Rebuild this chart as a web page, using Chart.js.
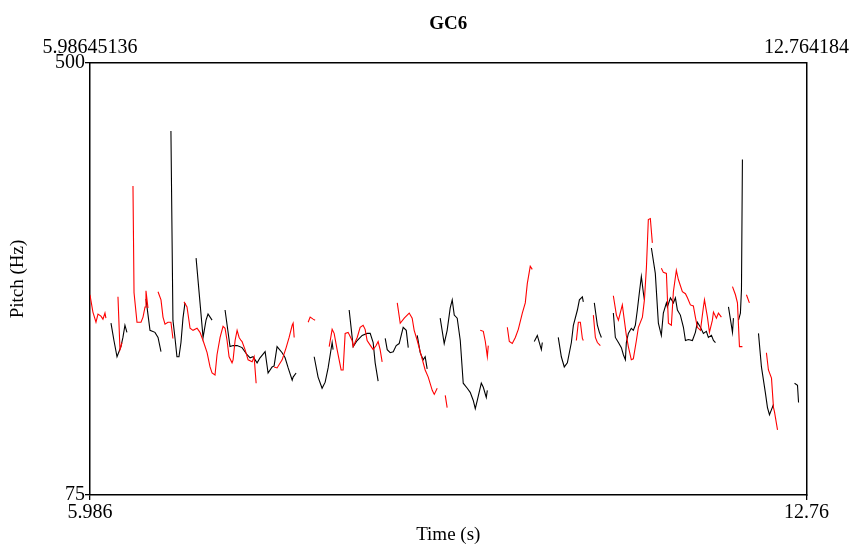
<!DOCTYPE html>
<html>
<head>
<meta charset="utf-8">
<title>GC6</title>
<script src="https://cdn.jsdelivr.net/npm/chart.js@4.4.1/dist/chart.umd.min.js"></script>
<style>
    html, body { margin: 0; padding: 0; background: #fff; }
    #pitchChart { display: block; }
</style>
</head>
<body>
<canvas id="pitchChart" width="852" height="545"></canvas>
<script>
// Pitch track, one inner array per voiced stretch (time in s, pitch in Hz)
const timeMin = 5.98645136;
const timeMax = 12.764184;
const hzMin = 75;
const hzMax = 500;

const blackTimes = [
    [6.185, 6.213, 6.242, 6.279, 6.298, 6.317, 6.336],
    [6.516, 6.554, 6.601, 6.630, 6.658],
    [6.752, 6.771, 6.790, 6.809, 6.828, 6.847, 6.866, 6.885],
    [6.990, 7.056, 7.084, 7.103, 7.141],
    [7.264, 7.311, 7.340, 7.378, 7.425, 7.472, 7.501, 7.529, 7.567, 7.595, 7.643, 7.671, 7.709, 7.728, 7.756, 7.804, 7.832, 7.861, 7.899, 7.908, 7.936],
    [8.107, 8.144, 8.182, 8.211, 8.239, 8.277, 8.286],
    [8.438, 8.476, 8.514, 8.561, 8.608, 8.637, 8.665, 8.684, 8.712],
    [8.779, 8.798, 8.826, 8.855, 8.883, 8.911, 8.949, 8.978, 8.997],
    [9.082, 9.110, 9.138, 9.157, 9.176],
    [9.299, 9.337, 9.365, 9.394, 9.413, 9.432, 9.460, 9.489, 9.517, 9.555, 9.583, 9.612, 9.631, 9.650, 9.688, 9.707, 9.735, 9.745],
    [10.189, 10.218, 10.237, 10.256, 10.265],
    [10.416, 10.445, 10.473, 10.502, 10.540, 10.559, 10.597, 10.616, 10.644, 10.653],
    [10.757, 10.786, 10.805, 10.824],
    [10.937, 10.956, 10.985, 11.013, 11.032, 11.051, 11.060, 11.079, 11.107, 11.126, 11.145, 11.164, 11.183, 11.202, 11.221, 11.231],
    [11.297, 11.334, 11.363, 11.391, 11.410, 11.439, 11.448, 11.477, 11.505, 11.524, 11.543, 11.571, 11.600, 11.619, 11.647, 11.685, 11.713, 11.732, 11.761, 11.789, 11.817, 11.836, 11.865, 11.884, 11.903],
    [12.026, 12.064, 12.073],
    [12.121, 12.139, 12.149, 12.158],
    [12.310, 12.338, 12.376, 12.395, 12.414, 12.433, 12.452],
    [12.651, 12.679, 12.689]
];
const blackHz = [
    [244, 227, 211, 221, 230, 242, 235],
    [268, 237, 235, 230, 216],
    [433, 247, 230, 211, 211, 225, 249, 264],
    [308, 230, 247, 253, 247],
    [257, 221, 222, 222, 220, 213, 210, 211, 205, 210, 216, 195, 201, 202, 221, 215, 210, 200, 188, 191, 195],
    [211, 191, 180, 186, 200, 225, 218],
    [257, 221, 227, 232, 234, 234, 225, 205, 187],
    [229, 218, 215, 216, 222, 224, 240, 237, 220],
    [232, 215, 208, 211, 199],
    [249, 224, 237, 259, 267, 252, 249, 227, 185, 180, 176, 168, 160, 168, 185, 181, 171, 178],
    [226, 232, 225, 218, 225],
    [230, 211, 201, 205, 225, 242, 257, 267, 270, 265],
    [264, 242, 235, 230],
    [254, 230, 225, 220, 213, 208, 225, 234, 239, 237, 242, 257, 274, 290, 274, 267],
    [318, 293, 244, 232, 254, 264, 260, 269, 264, 269, 257, 252, 240, 227, 228, 227, 235, 245, 240, 234, 236, 230, 232, 227, 225],
    [260, 235, 249],
    [247, 254, 277, 405],
    [234, 201, 175, 161, 154, 159, 164],
    [185, 183, 166]
];

const redTimes = [
    [5.986, 6.014, 6.043, 6.062, 6.090, 6.109, 6.128, 6.137],
    [6.251, 6.270, 6.279, 6.289],
    [6.393, 6.403, 6.431, 6.469, 6.488, 6.507, 6.516, 6.535],
    [6.630, 6.658, 6.677, 6.696, 6.724, 6.752, 6.771],
    [6.876, 6.904, 6.933, 6.961, 6.999, 7.027, 7.056, 7.094, 7.122, 7.141, 7.169, 7.188, 7.217, 7.245, 7.264, 7.283, 7.302, 7.330, 7.340, 7.359, 7.378, 7.397, 7.415, 7.425, 7.453, 7.482, 7.520, 7.539, 7.558],
    [7.728, 7.756, 7.804, 7.842, 7.870, 7.899, 7.908, 7.918],
    [8.050, 8.069, 8.097, 8.116],
    [8.249, 8.277, 8.296, 8.324, 8.362, 8.381, 8.400, 8.428, 8.466, 8.476, 8.514, 8.542, 8.570, 8.589, 8.608, 8.646, 8.665, 8.693, 8.712, 8.731, 8.750],
    [8.893, 8.921, 8.959, 9.006, 9.034, 9.053, 9.082, 9.110, 9.157, 9.186, 9.224, 9.243, 9.271],
    [9.347, 9.365],
    [9.678, 9.707, 9.726, 9.745, 9.754],
    [9.934, 9.953, 9.981, 10.010, 10.038, 10.076, 10.104, 10.123, 10.151, 10.170],
    [10.587, 10.606, 10.625, 10.644, 10.653],
    [10.748, 10.767, 10.786, 10.814],
    [10.937, 10.966, 10.985, 11.022, 11.032, 11.060, 11.079, 11.107, 11.126, 11.155, 11.174, 11.212, 11.231, 11.250, 11.268, 11.287, 11.306],
    [11.391, 11.410, 11.439, 11.458, 11.486, 11.505, 11.533, 11.552, 11.590, 11.619, 11.638, 11.666, 11.694, 11.713, 11.732, 11.761, 11.789, 11.799, 11.827, 11.846, 11.874, 11.884, 11.912, 11.931, 11.959],
    [12.064, 12.092, 12.111, 12.130, 12.158],
    [12.196, 12.224],
    [12.385, 12.404, 12.433, 12.452, 12.461, 12.490]
];
const redHz = [
    [272, 255, 245, 253, 251, 248, 254, 249],
    [270, 218, 221, 225],
    [379, 274, 245, 245, 250, 260, 276, 259],
    [275, 267, 250, 243, 245, 245, 229],
    [265, 260, 239, 237, 239, 235, 227, 215, 201, 195, 193, 213, 230, 241, 239, 227, 211, 205, 208, 227, 237, 230, 227, 226, 218, 208, 206, 211, 185],
    [201, 200, 208, 220, 230, 242, 244, 230],
    [245, 250, 248, 247],
    [221, 238, 234, 218, 198, 198, 234, 235, 227, 221, 230, 240, 242, 238, 227, 221, 218, 222, 226, 218, 206],
    [264, 244, 249, 254, 249, 237, 227, 216, 198, 191, 178, 174, 180],
    [173, 161],
    [237, 236, 226, 211, 222],
    [240, 226, 224, 230, 238, 254, 264, 283, 300, 297],
    [227, 245, 245, 229, 227],
    [252, 230, 225, 222],
    [271, 252, 247, 262, 254, 232, 221, 208, 209, 227, 240, 250, 267, 299, 346, 347, 323],
    [298, 294, 293, 244, 242, 275, 296, 287, 275, 273, 269, 262, 261, 250, 240, 237, 260, 267, 250, 235, 247, 255, 249, 254, 250],
    [280, 272, 264, 221, 221],
    [272, 264],
    [215, 198, 190, 161, 157, 139]
];

// stitch the stretches into one dataset, a null pitch breaks the line
function buildPoints(times, values) {
    const pts = [];
    times.forEach((seg, i) => {
        if (i > 0) pts.push({ x: seg[0], y: null });
        seg.forEach((t, j) => pts.push({ x: t, y: values[i][j] }));
    });
    return pts;
}

const serif = '"Liberation Serif", "DejaVu Serif", serif';
const tickFont = { family: serif, size: 20 };
const titleFont = { family: serif, size: 19, lineHeight: 1 };

const ctx = document.getElementById('pitchChart').getContext('2d');

new Chart(ctx, {
    type: 'scatter',
    data: {
        datasets: [
            {
                label: 'red',
                data: buildPoints(redTimes, redHz),
                showLine: true,
                spanGaps: false,
                borderColor: '#ff0000',
                borderWidth: 1.1,
                pointRadius: 0,
                tension: 0
            },
            {
                label: 'black',
                data: buildPoints(blackTimes, blackHz),
                showLine: true,
                spanGaps: false,
                borderColor: '#000000',
                borderWidth: 1.1,
                pointRadius: 0,
                tension: 0
            }
        ]
    },
    options: {
        responsive: false,
        animation: false,
        layout: { padding: 0 },
        plugins: {
            legend: { display: false },
            tooltip: { enabled: false }
        },
        scales: {
            x: {
                type: 'linear',
                position: 'bottom',
                min: timeMin,
                max: timeMax,
                afterBuildTicks: s => { s.ticks = [{ value: timeMin }, { value: timeMax }]; },
                afterFit: s => { s.height = 50; },
                ticks: {
                    callback: v => (v === timeMin ? '5.986' : '12.76'),
                    font: tickFont,
                    color: '#000',
                    padding: 1,
                    maxRotation: 0,
                    autoSkip: false
                },
                grid: { drawOnChartArea: false, tickLength: 5, color: '#000', lineWidth: 1.3 },
                border: { color: '#000', width: 1.5 },
                title: { display: true, text: 'Time (s)', font: titleFont, color: '#000', padding: 0 }
            },
            xTop: {
                type: 'linear',
                position: 'top',
                min: timeMin,
                max: timeMax,
                afterBuildTicks: s => { s.ticks = [{ value: timeMin }, { value: timeMax }]; },
                afterFit: s => { s.height = 63; },
                ticks: {
                    callback: v => (v === timeMin ? '5.98645136' : '12.764184'),
                    font: tickFont,
                    color: '#000',
                    padding: 3,
                    maxRotation: 0,
                    autoSkip: false
                },
                grid: { drawOnChartArea: false, drawTicks: false },
                border: { color: '#000', width: 1.5 },
                title: {
                    display: true, text: 'GC6', color: '#000',
                    font: { family: serif, size: 19, weight: 'bold', lineHeight: 1 },
                    padding: { top: 15, bottom: 0 }
                }
            },
            y: {
                type: 'linear',
                position: 'left',
                min: hzMin,
                max: hzMax,
                afterBuildTicks: s => { s.ticks = [{ value: hzMin }, { value: hzMax }]; },
                afterFit: s => { s.width = 90; },
                ticks: { font: tickFont, color: '#000', padding: 0 },
                grid: { drawOnChartArea: false, tickLength: 5, color: '#000', lineWidth: 1.3 },
                border: { color: '#000', width: 1.5 },
                title: { display: true, text: 'Pitch (Hz)', font: titleFont, color: '#000', padding: { top: 9, bottom: 0 } }
            },
            yRight: {
                type: 'linear',
                position: 'right',
                min: hzMin,
                max: hzMax,
                afterFit: s => { s.width = 44; },
                ticks: { display: false },
                grid: { display: false, drawTicks: false },
                border: { color: '#000', width: 1.5 }
            }
        }
    }
});
</script>
</body>
</html>
